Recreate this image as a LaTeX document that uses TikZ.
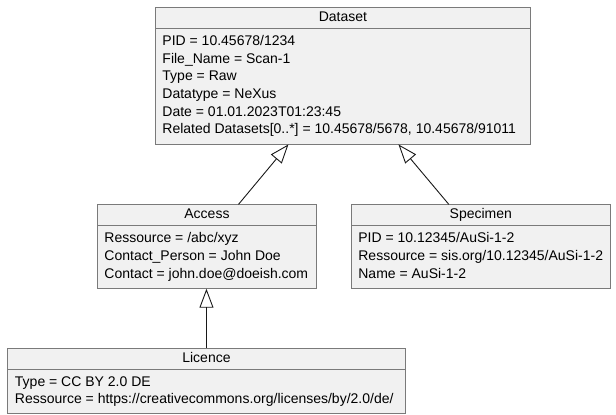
\documentclass[tikz,border=0pt]{standalone}
\usepackage{fontspec}
\setmainfont{Liberation Sans}
\usetikzlibrary{positioning, arrows.meta, shapes.multipart}
\definecolor{boxfill}{HTML}{F1F1F1}
\definecolor{boxline}{HTML}{7A7A7A}
\definecolor{linkline}{HTML}{181818}
\tikzstyle{object} = [rectangle split, rectangle split parts=2, rectangle split part align={center,left}, draw=boxline, fill=boxfill, line width=0.9bp, inner xsep=7bp, inner ysep=1.2bp, font=\fontsize{14bp}{17.7bp}\selectfont]
\tikzstyle{extends} = [draw=linkline, line width=0.9bp, -{Triangle[open, length=19bp, width=14bp]}]
\newcommand{\attrs}[1]{\raisebox{0pt}[\dimexpr\height+3bp][\dimexpr\depth+3bp]{\begin{tabular}{@{}l@{}}#1\end{tabular}}}

\begin{document}
\begin{tikzpicture}[x=1bp, y=-1bp]
    \useasboundingbox (0,0) rectangle (616,414);

        % Objects
        \node (dataset) [object, minimum width=375bp, anchor=north west] at (155,7) {\strut Dataset
            \nodepart{second}\attrs{PID = 10.45678/1234\\ File\_Name = Scan-1\\ Type = Raw\\ Datatype = NeXus\\ Date = 01.01.2023T01:23:45\\ Related Datasets[0..*] = 10.45678/5678, 10.45678/91011}};
        \node (access) [object, minimum width=219bp, below=60bp of dataset.south, xshift=-136bp] {\strut Access
            \nodepart{second}\attrs{Ressource = /abc/xyz\\ Contact\_Person = John Doe\\ Contact = john.doe@doeish.com}};
        \node (specimen) [object, minimum width=259bp, right=34bp of access.north east, anchor=north west] {\strut Specimen
            \nodepart{second}\attrs{PID = 10.12345/AuSi-1-2\\ Ressource = sis.org/10.12345/AuSi-1-2\\ Name = AuSi-1-2}};
        \node (licence) [object, minimum width=397bp, below=59bp of access, xshift=-0.5bp] {\strut Licence
            \nodepart{second}\attrs{Type = CC BY 2.0 DE\\ Ressource = https://creativecommons.org/licenses/by/2.0/de/}};

        % Arrows
        \draw [extends] ([xshift=31.5bp]access.north) -- ([xshift=-54.5bp]dataset.south);
        \draw [extends] ([xshift=-32bp]specimen.north) -- ([xshift=55.5bp]dataset.south);
        \draw [extends] (licence.north) -- (licence.north |- access.south);

\end{tikzpicture}
\end{document}
